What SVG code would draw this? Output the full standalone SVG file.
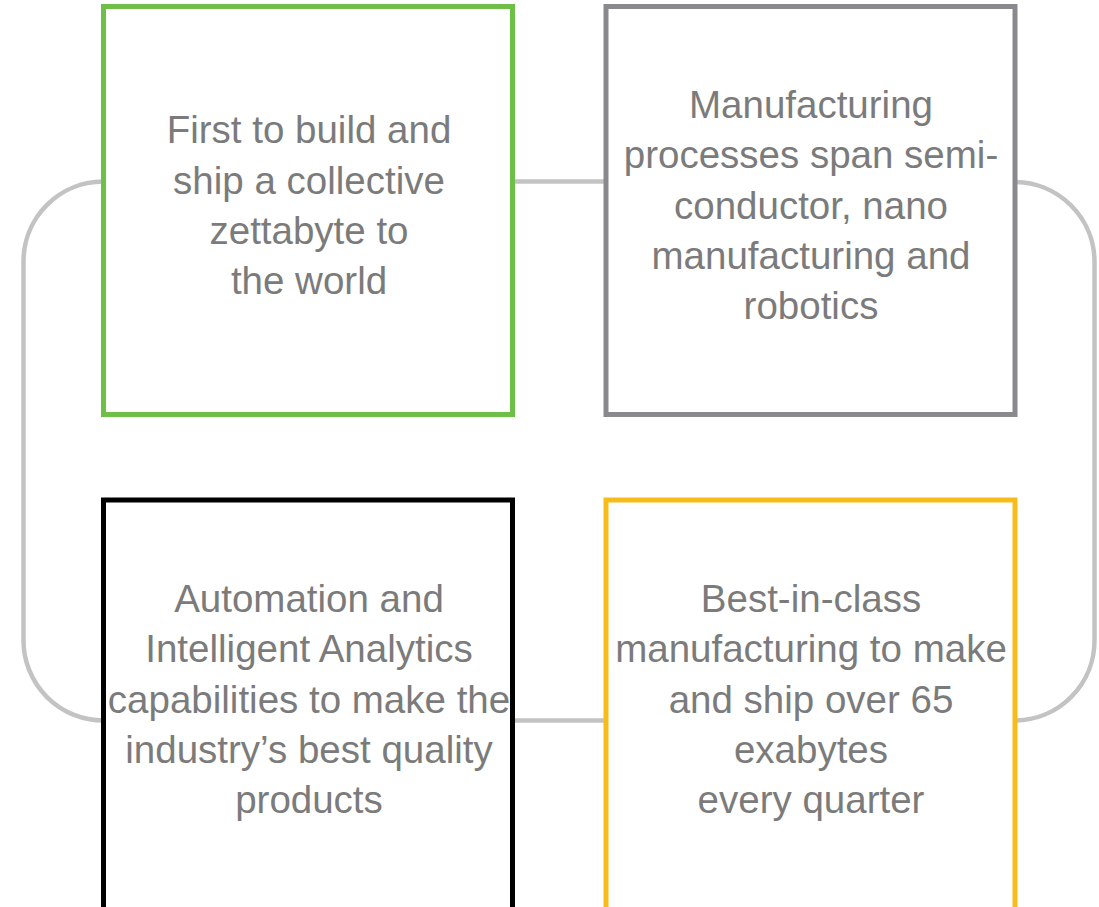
<svg xmlns="http://www.w3.org/2000/svg" width="1099" height="907" viewBox="0 0 1099 907">
<style>
.conn{fill:none;stroke:#c3c3c3;stroke-width:4.5}
.box{fill:#ffffff;stroke-width:5}
.t{font-family:"Liberation Sans",Arial,sans-serif;font-size:38.5px;fill:#7b7b7b;text-anchor:middle}
</style>
<rect width="1099" height="907" fill="#ffffff"/>
<g id="connectors">
<path class="conn" d="M103,181.5 A80,80 0 0 0 23.5,261.5 V640.5 A80,80 0 0 0 103.5,720.5"/>
<path class="conn" d="M512,181.5 H606"/>
<path class="conn" d="M1015,182 A80,80 0 0 1 1094.5,262 V640.5 A80,80 0 0 1 1015,720.5"/>
<path class="conn" d="M512,720.5 H606"/>
</g>
<g id="node1">
<rect class="box" x="103.5" y="6.5" width="409" height="408" stroke="#6dbf47"/>
<text class="t"><tspan x="309" y="143">First to build and</tspan><tspan x="309" y="193.5">ship a collective</tspan><tspan x="309" y="244">zettabyte to</tspan><tspan x="309" y="294">the world</tspan></text>
</g>
<g id="node2">
<rect class="box" x="606" y="6.5" width="409" height="408" stroke="#8a8a8e"/>
<text class="t"><tspan x="811" y="118">Manufacturing</tspan><tspan x="811" y="168">processes span semi-</tspan><tspan x="811" y="218.5">conductor, nano</tspan><tspan x="811" y="268.5">manufacturing and</tspan><tspan x="811" y="318.5">robotics</tspan></text>
</g>
<g id="node3">
<rect class="box" x="103.5" y="500" width="409" height="420" stroke="#000000"/>
<text class="t"><tspan x="309" y="611.5">Automation and</tspan><tspan x="309" y="662">Intelligent Analytics</tspan><tspan x="309" y="712.5">capabilities to make the</tspan><tspan x="309" y="762.5">industry’s best quality</tspan><tspan x="309" y="813">products</tspan></text>
</g>
<g id="node4">
<rect class="box" x="606" y="500" width="409" height="420" stroke="#f8bc1a"/>
<text class="t"><tspan x="811" y="611.5">Best-in-class</tspan><tspan x="811" y="662">manufacturing to make</tspan><tspan x="811" y="712.5">and ship over 65</tspan><tspan x="811" y="762.5">exabytes</tspan><tspan x="811" y="813">every quarter</tspan></text>
</g>
</svg>
